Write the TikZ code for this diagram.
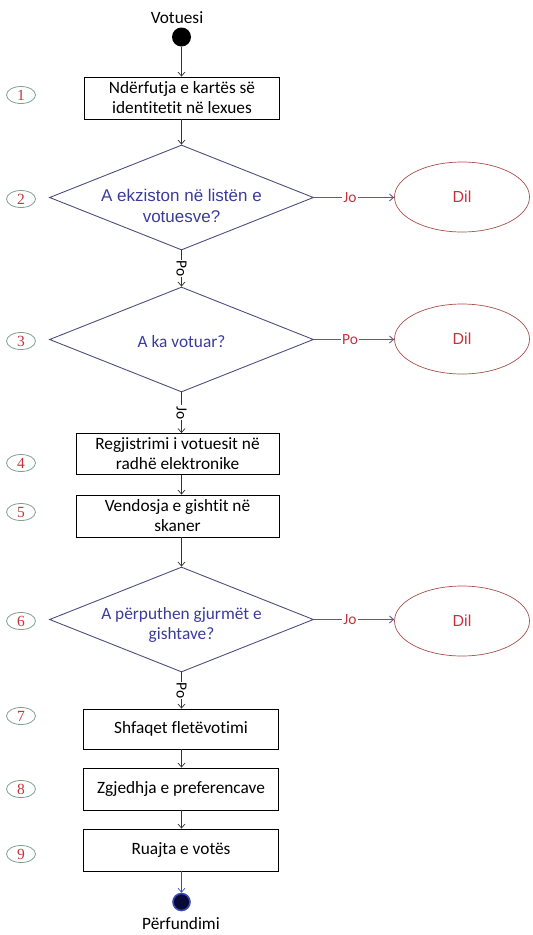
\documentclass[tikz,border=0pt]{standalone}
\usepackage{fontspec}
\setmainfont{Carlito}[Ligatures=NoCommon]
\newfontfamily\arialf{Liberation Sans}
\newfontfamily\serifnum{Liberation Serif}
\usetikzlibrary{shapes.geometric,arrows.meta}
\definecolor{dtextblue}{HTML}{3B3B9B}
\definecolor{dline}{HTML}{4E4E7E}
\definecolor{sideline}{HTML}{5E5A8A}
\definecolor{dred}{HTML}{C8323A}
\definecolor{ellred}{HTML}{A8504A}
\definecolor{numgreen}{HTML}{7FA090}
\definecolor{navyfill}{HTML}{0A0A3A}
\definecolor{endring}{HTML}{3A4AB0}
\begin{document}
\begin{tikzpicture}[x=1pt,y=-1pt,
  mainfont/.style={font=\fontsize{17.3}{20}\selectfont},
  stepbox/.style={draw=black, line width=0.9pt, minimum width=195pt, minimum height=42pt,
    align=center, inner sep=2pt, mainfont},
  decision/.style={diamond, draw=dline, line width=0.9pt, minimum width=264pt,
    minimum height=105pt, inner sep=0pt},
  dtext/.style={align=center, text=dtextblue, inner sep=0pt},
  exitnode/.style={ellipse, draw=ellred, line width=0.7pt, minimum width=135pt,
    minimum height=70pt, inner sep=0pt, text=dred, font=\arialf\fontsize{16}{18}\selectfont},
  numlabel/.style={ellipse, draw=numgreen, line width=0.8pt, minimum width=29pt,
    minimum height=17pt, inner sep=0pt, text=dred, font=\serifnum\fontsize{15.5}{15.5}\selectfont},
  flow/.style={draw=black!80, line width=0.7pt, -{Straight Barb[length=4pt,width=7pt]}},
  sideflow/.style={draw=sideline, line width=0.9pt, -{Straight Barb[length=4pt,width=7pt]}},
  sidelbl/.style={fill=white, inner sep=1pt, text=dred, font=\fontsize{15.5}{15.5}\selectfont},
  vlbl/.style={fill=white, inner sep=1pt, rotate=-90, font=\fontsize{15.5}{15.5}\selectfont},
  plain/.style={inner sep=0pt, mainfont},
]
\useasboundingbox (0,0) rectangle (533,935);

% start / end
\node[plain] (votuesi) at (177,18) {Votuesi};
\node[circle, fill=black, minimum size=19pt, inner sep=0pt] (start) at (181.5,37) {};

% steps
\node[stepbox] (b1) at (182,98) {Ndërfutja e kartës së\\identitetit në lexues};
\node[decision] (d2) at (181.5,197.5) {};
\node[dtext, font=\arialf\fontsize{17}{21.5}\selectfont] (d2t) at (181.5,206) {A ekziston në listën e\\votuesve?};
\node[exitnode] (e2) at (462,197) {Dil};

\node[decision] (d3) at (181.5,339.5) {};
\node[dtext, mainfont] (d3t) at (181.5,342) {A ka votuar?};
\node[exitnode] (e3) at (462,339) {Dil};

\node[stepbox, minimum width=203pt, minimum height=41pt] (b4) at (177.5,454) {Regjistrimi i votuesit në\\radhë elektronike};
\node[stepbox, minimum width=203pt] (b5) at (177.5,516) {Vendosja e gishtit në\\skaner};

\node[decision] (d6) at (181.5,619.5) {};
\node[dtext, mainfont] (d6t) at (181.5,625) {A përputhen gjurmët e\\gishtave?};
\node[exitnode] (e6) at (462,621) {Dil};

\node[stepbox, minimum height=40pt] (b7) at (181,729) {Shfaqet fletëvotimi};
\node[stepbox] (b8) at (181,789) {Zgjedhja e preferencave};
\node[stepbox] (b9) at (181,850) {Ruajta e votës};

\node[circle, fill=navyfill, draw=endring, line width=1.6pt, minimum size=17pt, inner sep=0pt] (end) at (181.5,902) {};
\node[plain] (perf) at (181,924) {Përfundimi};

% number labels
\node[numlabel] (n1) at (21,95) {1};
\node[numlabel] (n2) at (21,199) {2};
\node[numlabel] (n3) at (21,341) {3};
\node[numlabel] (n4) at (21,463) {4};
\node[numlabel] (n5) at (21,512) {5};
\node[numlabel] (n6) at (21,621) {6};
\node[numlabel] (n7) at (21,716) {7};
\node[numlabel] (n8) at (21,789) {8};
\node[numlabel] (n9) at (21,854) {9};

% main flow
\draw[flow] (start.south) -- (start.south |- b1.north);
\draw[flow] (b1.south -| d2.north) -- (d2.north);
\draw[flow] (d2.south) -- node[vlbl]{Po} (d3.north);
\draw[flow] (d3.south) -- node[vlbl]{Jo} (d3.south |- b4.north);
\draw[flow] (b4.south -| d3.south) -- (d3.south |- b5.north);
\draw[flow] (b5.south -| d6.north) -- (d6.north);
\draw[flow] (d6.south) -- node[vlbl]{Po} (d6.south |- b7.north);
\draw[flow] (b7.south -| d6.south) -- (d6.south |- b8.north);
\draw[flow] (b8.south -| d6.south) -- (d6.south |- b9.north);
\draw[flow, draw=endring] (b9.south -| end.north) -- (end.north);

% exits
\draw[sideflow] (d2.east) -- node[sidelbl, pos=0.45]{Jo} (e2.west |- d2.east);
\draw[sideflow] (d3.east) -- node[sidelbl, pos=0.45]{Po} (e3.west |- d3.east);
\draw[sideflow] (d6.east) -- node[sidelbl, pos=0.45]{Jo} (e6.west |- d6.east);
\end{tikzpicture}
\end{document}
